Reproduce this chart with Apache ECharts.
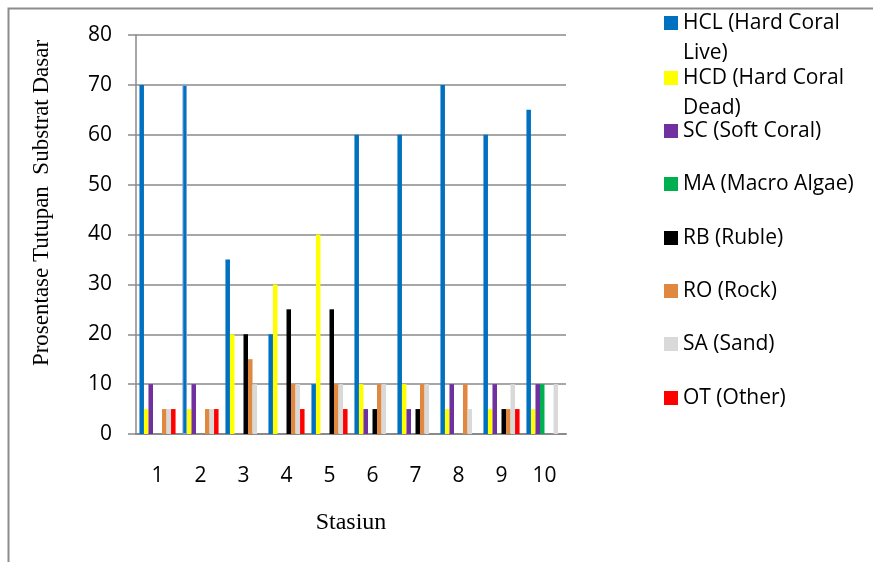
<!DOCTYPE html>
<html>
<head>
<meta charset="utf-8">
<script src="https://cdn.jsdelivr.net/npm/echarts@6/dist/echarts.min.js"></script>
<style>html,body{margin:0;padding:0;background:#fff;}#c{width:873px;height:562px;}</style>
</head>
<body>
<div id="c"></div>
<script>
const categories = ['1','2','3','4','5','6','7','8','9','10'];
const seriesNames = ['HCL (Hard Coral Live)','HCD (Hard Coral Dead)','SC (Soft Coral)','MA (Macro Algae)','RB (Ruble)','RO (Rock)','SA (Sand)','OT (Other)'];
const legendLabels = ['HCL (Hard Coral\nLive)','HCD (Hard Coral\nDead)','SC (Soft Coral)','MA (Macro Algae)','RB (Ruble)','RO (Rock)','SA (Sand)','OT (Other)'];
const HCL = [70,70,35,20,10,60,60,70,60,65];
const HCD = [5,5,20,30,40,10,10,5,5,5];
const SC  = [10,10,0,0,0,5,5,10,10,10];
const MA  = [0,0,0,0,0,0,0,0,0,10];
const RB  = [0,0,20,25,25,5,5,0,5,0];
const RO  = [5,5,15,10,10,10,10,10,5,0];
const SA  = [5,5,10,10,10,10,10,5,10,10];
const OT  = [5,5,0,5,5,0,0,0,5,0];
const yTicks = {min:0, max:80, interval:10};
const colors = ['#0070C0','#FFFF00','#7030A0','#00B050','#000000','#E0883F','#D9D9D9','#FF0000'];
const values = [HCL,HCD,SC,MA,RB,RO,SA,OT];

const legendCenters = [22,77,130,183,237,290,343,397];
const legends = seriesNames.map((n,i)=>{
  const two = legendLabels[i].indexOf('\n')>=0;
  return {
    show:true, orient:'vertical', left:664, top: two ? legendCenters[i]-44 : legendCenters[i]-14,
    padding:0, itemWidth:14, itemHeight:14, itemGap:0, icon:'rect',
    data:[n], selectedMode:false,
    formatter: () => two ? '\n' + legendLabels[i] : legendLabels[i],
    textStyle:{fontFamily:'Open Sans', fontSize:21, color:'#000', lineHeight:30}
  };
});

const series = seriesNames.map((n,i)=>({
  name:n, type:'bar', barGap:'0%', barCategoryGap:'16%',
  itemStyle:{color:colors[i]},
  data: values[i].map((v,j)=> (i===0 && j===1) ? {value:v, itemStyle:{borderColor:'#7aa6dc', borderWidth:1}} : v),
  animation:false
}));

const chart = echarts.init(document.getElementById('c'), null, {renderer:'canvas'});
chart.setOption({
  animation:false,
  backgroundColor:'#fff',
  grid:{left:136, right:307, top:35, bottom:128, containLabel:false},
  legend: legends,
  xAxis:{type:'category', data:categories,
    axisLine:{show:true, lineStyle:{color:'#8a8a8a', width:2}},
    axisTick:{show:false},
    axisLabel:{color:'#000', fontFamily:'Open Sans', fontSize:21, margin:32},
    name:'Stasiun', nameLocation:'middle', nameGap:77,
    nameTextStyle:{fontFamily:'Liberation Serif', fontSize:24, color:'#000'}
  },
  yAxis:{type:'value', min:yTicks.min, max:yTicks.max, interval:yTicks.interval,
    axisLine:{show:true, lineStyle:{color:'#8a8a8a', width:1.5}},
    axisTick:{show:true, length:8, lineStyle:{color:'#8a8a8a', width:1.5}},
    axisLabel:{color:'#000', fontFamily:'Open Sans', fontSize:21, margin:24},
    splitLine:{show:true, lineStyle:{color:'#8a8a8a', width:1.5}}
  },
  graphic:[
    {type:'rect', shape:{x:8.5, y:8.5, width:900, height:600}, style:{fill:'none', stroke:'#8c8c8c', lineWidth:2}, silent:true},
    {type:'text', x:42, y:203, rotation:Math.PI/2,
      style:{text:'Prosentase Tutupan  Substrat Dasar', fontFamily:'Liberation Serif', fontSize:23, fill:'#000', align:'center', verticalAlign:'middle'}}
  ],
  series: series
});
</script>
</body>
</html>
